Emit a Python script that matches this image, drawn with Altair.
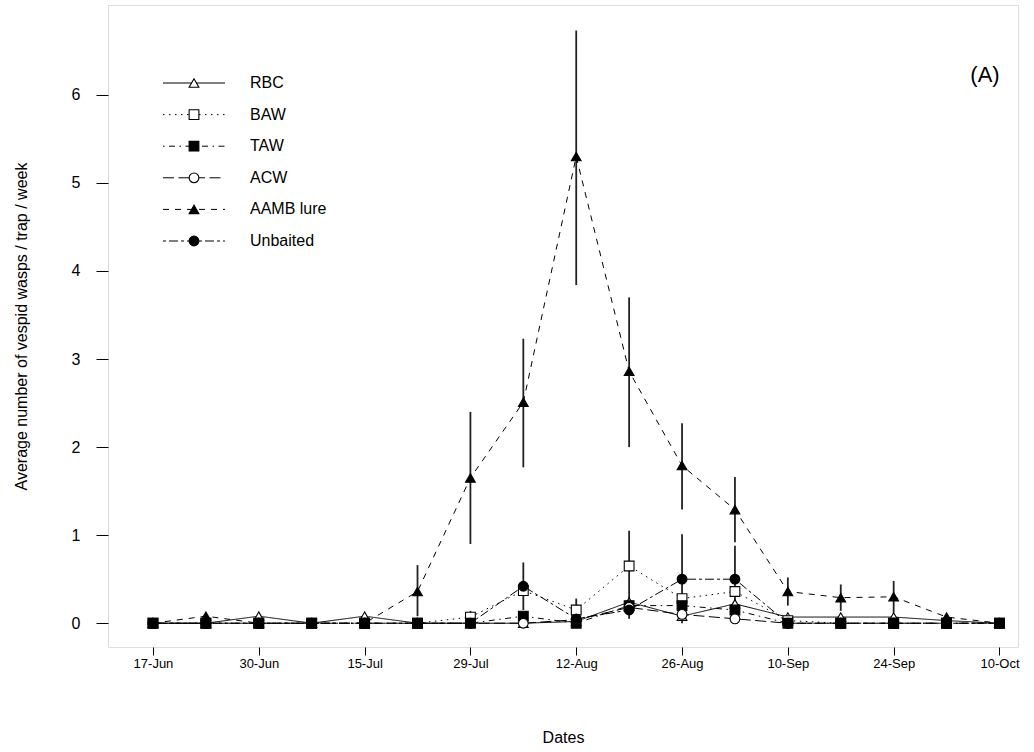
import altair as alt
import pandas as pd

# ---------------- data ----------------
week_idx = list(range(17))
tick_pos = [0, 2, 4, 6, 8, 10, 12, 14, 16]
tick_labels = ["17-Jun", "30-Jun", "15-Jul", "29-Jul", "12-Aug",
               "26-Aug", "10-Sep", "24-Sep", "10-Oct"]
series_names = ["RBC", "BAW", "TAW", "ACW", "AAMB lure", "Unbaited"]
legend_rank = [0, 1, 2, 3, 4, 5]

rbc = [0, 0, 0.08, 0, 0.08, 0, 0, 0, 0.02, 0.24, 0.08, 0.22, 0.07, 0.07, 0.07, 0.03, 0]
baw = [0, 0, 0, 0, 0, 0, 0.07, 0.37, 0.15, 0.65, 0.28, 0.36, 0.03, 0, 0, 0, 0]
taw = [0, 0, 0, 0, 0, 0, 0, 0.08, 0, 0.20, 0.20, 0.15, 0, 0, 0, 0, 0]
acw = [0, 0, 0, 0, 0, 0, 0, 0, 0.04, 0.18, 0.10, 0.05, 0, 0, 0, 0, 0]
aamb = [0, 0.08, 0, 0, 0, 0.36, 1.65, 2.51, 5.30, 2.86, 1.79, 1.29, 0.36, 0.29, 0.30, 0.07, 0]
unbaited = [0, 0, 0, 0, 0, 0, 0, 0.42, 0.05, 0.15, 0.50, 0.50, 0, 0, 0, 0, 0]

err_series = ["AAMB lure"] * 10 + ["Unbaited"] * 4 + ["BAW"] * 3
err_x = [5, 6, 7, 8, 9, 10, 11, 12, 13, 14, 7, 9, 10, 11, 6, 8, 9]
err_lo = [0.08, 0.90, 1.77, 3.84, 2.00, 1.29, 0.92, 0.20, 0.14, 0.12,
          0.15, 0.05, 0.00, 0.14, 0.00, 0.02, 0.25]
err_hi = [0.66, 2.40, 3.23, 6.73, 3.70, 2.27, 1.66, 0.52, 0.44, 0.48,
          0.69, 0.15, 1.01, 0.88, 0.14, 0.28, 1.05]

panel_tag = ["(A)"]

# ---------------- tables ----------------
rows = []
for name, vals in zip(series_names, [rbc, baw, taw, acw, aamb, unbaited]):
    for i, v in zip(week_idx, vals):
        rows.append({"series": name, "x": i, "y": v})
df = pd.DataFrame(rows)
err_df = pd.DataFrame({"series": err_series, "x": err_x, "lo": err_lo, "hi": err_hi})
leg_df = pd.DataFrame({"series": series_names, "rank": legend_rank})
tag_df = pd.DataFrame({"t": panel_tag})

FONT = "Liberation Sans"

shape_scale = alt.Scale(domain=series_names,
                        range=["triangle-up", "square", "square", "circle", "triangle-up", "circle"])
fill_scale = alt.Scale(domain=series_names,
                       range=["white", "white", "black", "white", "black", "black"])
dash_scale = alt.Scale(domain=series_names,
                       range=[[1, 0], [1.5, 4.5], [1.5, 4.5, 6, 4.5], [11, 4.5], [6, 6], [3, 3, 9, 3]])

labs = [""] * 17
for p, l in zip(tick_pos, tick_labels):
    labs[p] = l
label_expr = str(labs) + "[datum.value]"

x_enc = alt.X("x:Q",
              scale=alt.Scale(domain=[-0.85, 16.35], nice=False, zero=False),
              axis=alt.Axis(values=tick_pos, labelExpr=label_expr, title="Dates",
                            tickSize=8, labelFontSize=13, titleFontSize=16,
                            labelPadding=2, titlePadding=59, domain=False, grid=False,
                            labelFont=FONT, titleFont=FONT, titleFontWeight="normal",
                            labelColor="black", titleColor="black", tickColor="black"))
y_scale = alt.Scale(domain=[-0.27, 7.02], nice=False, zero=False)
y_axis = alt.Axis(values=[0, 1, 2, 3, 4, 5, 6], format="d",
                  title="Average number of vespid wasps / trap / week",
                  tickSize=12, labelFontSize=16, titleFontSize=16, labelPadding=16,
                  titlePadding=42, domain=False, grid=False, labelFont=FONT, titleFont=FONT,
                  titleFontWeight="normal", labelColor="black", titleColor="black",
                  tickColor="black", labelAngle=0)

lines = alt.Chart(df).mark_line(color="black", strokeWidth=1).encode(
    x=x_enc,
    y=alt.Y("y:Q", scale=y_scale, axis=y_axis),
    detail="series:N",
    strokeDash=alt.StrokeDash("series:N", scale=dash_scale, legend=None),
)

bars = alt.Chart(err_df).mark_rule(color="#222222", strokeWidth=1.8).encode(
    x="x:Q",
    y=alt.Y("lo:Q"),
    y2="hi:Q",
)

points = alt.Chart(df).mark_point(stroke="black", strokeWidth=1.1, opacity=1, size=95).encode(
    x="x:Q",
    y="y:Q",
    shape=alt.Shape("series:N", scale=shape_scale, legend=None),
    fill=alt.Fill("series:N", scale=fill_scale, legend=None),
)

data_layer = alt.layer(lines, bars, points)

leg_y = alt.Y("rank:Q", scale=alt.Scale(domain=[0, 5], range=[78, 236], nice=False, zero=False),
              axis=None)

leg_lines = alt.Chart(leg_df).mark_rule(color="black", strokeWidth=1).encode(
    x=alt.value(55), x2=alt.value(117), y=leg_y,
    strokeDash=alt.StrokeDash("series:N", scale=dash_scale, legend=None),
)
leg_pts = alt.Chart(leg_df).mark_point(stroke="black", strokeWidth=1.1, opacity=1, size=95).encode(
    x=alt.value(86), y=leg_y,
    shape=alt.Shape("series:N", scale=shape_scale, legend=None),
    fill=alt.Fill("series:N", scale=fill_scale, legend=None),
)
leg_txt = alt.Chart(leg_df).mark_text(align="left", baseline="middle", fontSize=16,
                                      font=FONT, color="black").encode(
    x=alt.value(142), y=leg_y, text="series:N",
)
legend_layer = alt.layer(leg_lines, leg_pts, leg_txt)

tag = alt.Chart(tag_df).mark_text(fontSize=22, font=FONT, color="black",
                                  align="center", baseline="middle").encode(
    x=alt.value(877), y=alt.value(70), text="t:N")

chart = alt.layer(data_layer, legend_layer, tag).resolve_scale(y="independent").properties(
    width=910, height=642,
    padding={"left": 108, "top": 5, "right": 16, "bottom": 105},
    autosize=alt.AutoSizeParams(type="none"),
).configure_view(stroke="black", strokeWidth=1).configure(background="white")

chart.save("out.html", embed_options={"renderer": "svg", "actions": False})
